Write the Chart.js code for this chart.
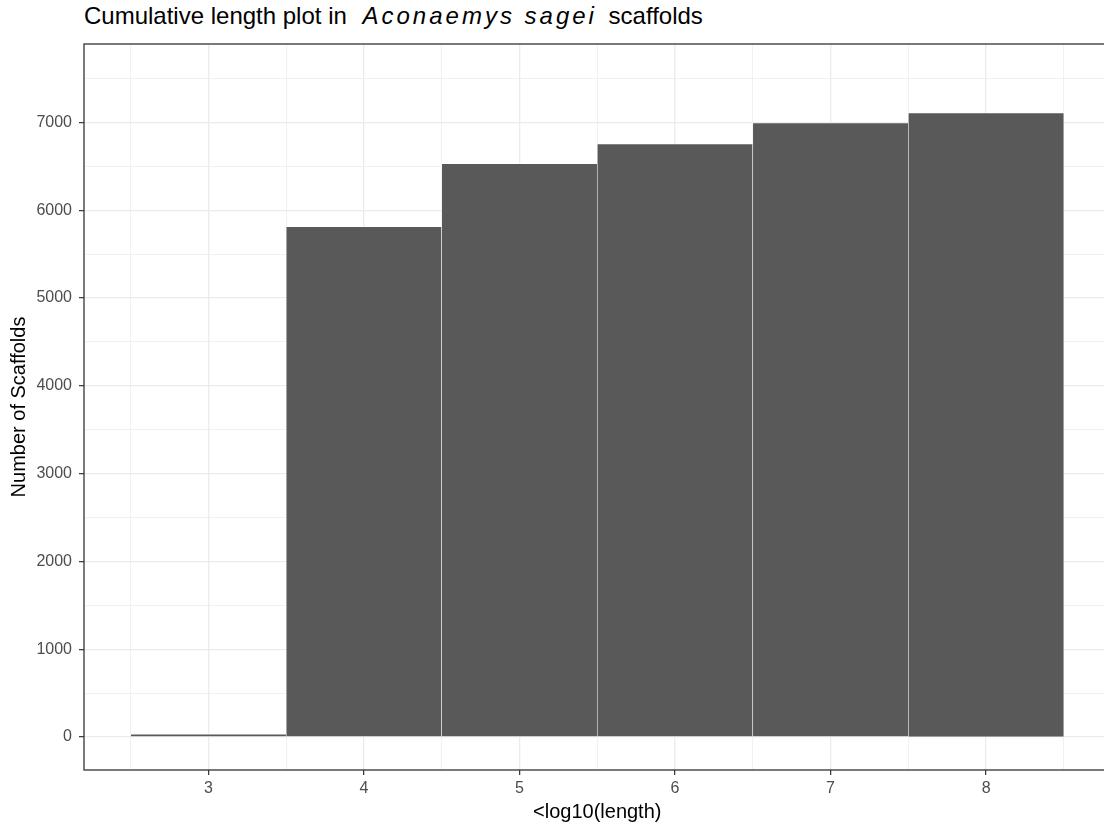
<!DOCTYPE html>
<html>
<head>
<meta charset="utf-8">
<script src="https://cdn.jsdelivr.net/npm/chart.js@4.4.1/dist/chart.umd.min.js"></script>
<style>
  html, body { margin: 0; padding: 0; background: #fff; overflow: hidden; }
  #wrap { position: relative; width: 1104px; height: 826px; overflow: hidden; }
  #title {
    position: absolute; left: 84px; top: 4px;
    font: 24px "Liberation Sans", Arial, sans-serif; line-height: 24px;
    color: #000; white-space: nowrap;
  }
  #title em { letter-spacing: 3px; margin-left: 9px; margin-right: 5px; }
  canvas { position: absolute; left: 0; top: 0; }
</style>
</head>
<body>
<div id="wrap">
  <div id="title">Cumulative length plot in <em>Aconaemys sagei</em> scaffolds</div>
  <canvas id="lengthChart" width="1112" height="826"></canvas>
</div>
<script>
const log10Length = [3, 4, 5, 6, 7, 8];
const scaffoldCounts = [32, 5813, 6530, 6754, 6993, 7107];

// grid lines (major + minor) and the ticks that get a label
const xGrid = [2.5, 3, 3.5, 4, 4.5, 5, 5.5, 6, 6.5, 7, 7.5, 8, 8.5];
const xLabels = [3, 4, 5, 6, 7, 8];
const yGrid = [0, 500, 1000, 1500, 2000, 2500, 3000, 3500, 4000, 4500, 5000, 5500, 6000, 6500, 7000, 7500];
const yLabels = [0, 1000, 2000, 3000, 4000, 5000, 6000, 7000];

Chart.defaults.font.family = '"Liberation Sans", Arial, sans-serif';

const panelBorder = {
  id: "panelBorder",
  afterDraw(chart) {
    const { ctx, chartArea: a } = chart;
    ctx.save();
    ctx.strokeStyle = "#333333";
    ctx.lineWidth = 1.3;
    ctx.strokeRect(a.left, a.top, a.right - a.left, a.bottom - a.top);
    ctx.restore();
  },
};

const isMajor = (list) => (c) => c.tick && list.includes(c.tick.value);

const lengthCtx = document.getElementById("lengthChart");

const lengthChart = new Chart(lengthCtx, {
  type: "bar",
  data: {
    datasets: [
      {
        data: log10Length.map((x, i) => ({ x: x, y: scaffoldCounts[i] })),
        backgroundColor: "#595959",
        borderColor: "#ffffff",
        borderWidth: { top: 0.6, left: 0.6, right: 0.6, bottom: 0 },
        borderSkipped: "start",
        barThickness: "flex",
        categoryPercentage: 1,
        barPercentage: 1,
      },
    ],
  },
  options: {
    responsive: false,
    devicePixelRatio: 1,
    animation: false,
    layout: { padding: { top: 44, left: 0, right: 1.5, bottom: 0 } },
    plugins: {
      legend: false,
      tooltip: { enabled: false },
    },
    scales: {
      x: {
        type: "linear",
        min: 2.2,
        max: 8.8,
        offset: false,
        afterBuildTicks: (s) => { s.ticks = xGrid.map((v) => ({ value: v })); },
        afterFit: (s) => { s.height = 56; },
        ticks: {
          autoSkip: false,
          maxRotation: 0,
          padding: 4,
          color: "#4D4D4D",
          font: { size: 16 },
          callback: (v) => (xLabels.includes(v) ? String(v) : ""),
        },
        grid: {
          offset: false,
          color: "#EBEBEB",
          lineWidth: (c) => (isMajor(xLabels)(c) ? 1.3 : 0.7),
          tickLength: 5,
          tickWidth: 1.2,
          tickColor: (c) => (isMajor(xLabels)(c) ? "#333333" : "rgba(0,0,0,0)"),
        },
        border: { display: false },
        title: {
          display: true,
          text: "<log10(length)",
          color: "#000",
          font: { size: 20 },
          padding: { top: 0, bottom: 2 },
        },
      },
      y: {
        min: -376,
        max: 7894,
        afterBuildTicks: (s) => { s.ticks = yGrid.map((v) => ({ value: v })); },
        afterFit: (s) => { s.width = 84; },
        ticks: {
          autoSkip: false,
          padding: 7,
          color: "#4D4D4D",
          font: { size: 16 },
          callback: (v) => (yLabels.includes(v) ? String(v) : ""),
        },
        grid: {
          color: "#EBEBEB",
          lineWidth: (c) => (isMajor(yLabels)(c) ? 1.3 : 0.7),
          tickLength: 5,
          tickWidth: 1.2,
          tickColor: (c) => (isMajor(yLabels)(c) ? "#333333" : "rgba(0,0,0,0)"),
        },
        border: { display: false },
        title: {
          display: true,
          text: "Number of Scaffolds",
          color: "#000",
          font: { size: 20 },
          padding: { top: 7.5, bottom: 0 },
        },
      },
    },
  },
  plugins: [panelBorder],
});
</script>
</body>
</html>
